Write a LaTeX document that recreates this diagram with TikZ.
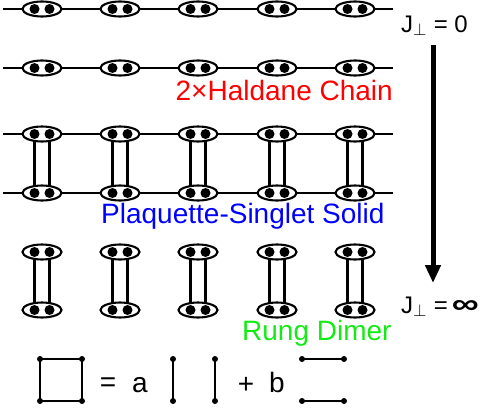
\documentclass[tikz,border=0pt]{standalone}
\usepackage{fontspec}
\setmainfont{Liberation Sans}
\usetikzlibrary{arrows.meta}

\newcommand{\varrx}{19.5}
\newcommand{\varry}{7.5}
\newcommand{\vardot}{5}
\newcommand{\varsep}{7.5}
\newcommand{\varend}{3}
\definecolor{myred}{RGB}{255,0,0}
\definecolor{myblue}{RGB}{0,0,255}
\definecolor{mygreen}{RGB}{20,235,20}

\tikzset{
  pair/.style={line width=2.1pt},
  rung/.style={line width=2.6pt},
  label/.style={inner sep=0pt, font=\fontsize{28}{30}\selectfont},
  coupling/.style={inner sep=0pt, anchor=base west, font=\fontsize{24}{26}\selectfont},
}

\begin{document}
\begin{tikzpicture}[x=1pt, y=-1pt]

	\useasboundingbox (0,0) rectangle (481,407);

	% chains
	\foreach \y in {9,68,134,193}
		\draw [line width=2.4pt] (3,\y) -- (393,\y);

	% rungs
	\foreach \x in {42,120,198,277,355} {
		\draw [rung] (\x-\varsep,134) -- (\x-\varsep,193);
		\draw [rung] (\x+\varsep,134) -- (\x+\varsep,193);
		\draw [rung] (\x-\varsep,252) -- (\x-\varsep,310);
		\draw [rung] (\x+\varsep,252) -- (\x+\varsep,310);
	}

	% singlet pairs
	\foreach \y in {9,68,134,193,252,310}
		\foreach \x in {42,120,198,277,355} {
			\draw [pair, fill=white] (\x,\y) ellipse ({\varrx} and {\varry});
			\fill (\x-\varsep,\y) circle (\vardot);
			\fill (\x+\varsep,\y) circle (\vardot);
		}

	% phases
	\node [label, text=myred, anchor=base east] (haldane) at (393,100) {2×Haldane Chain};
	\node [label, text=myblue, anchor=base west] (plaquette) at (101,223) {Plaquette-Singlet Solid};
	\node [label, text=mygreen, anchor=base west] (dimer) at (242,340) {Rung Dimer};

	% coupling
	\node [coupling] (jzero) at (401,32) {J$_\perp$ = 0};
	\node [coupling] (jinf) at (401,313) {J$_\perp$ =\,\resizebox{27pt}{13pt}{\textbf{∞}}};
	\coordinate (top) at (433,45);
	\coordinate (bot) at (433,283);
	\draw [-{Triangle[width=15pt,length=18pt]}, line width=5pt] (top) -- (bot);

	% plaquette = a rungs + b legs
	\draw [line width=2.4pt] (40,359) rectangle (82,401);
	\foreach \x in {40,82}
		\foreach \y in {359,401}
			\fill (\x,\y) circle (\varend);
	\node [label] (eq) at (108,385) {=};
	\node [label, anchor=base west] (ca) at (132,392) {a};
	\foreach \x in {173,215} {
		\draw [line width=2.4pt] (\x,359) -- (\x,401);
		\fill (\x,359) circle (\varend);
		\fill (\x,401) circle (\varend);
	}
	\node [label] (plus) at (246,385) {+};
	\node [label, anchor=base west] (cb) at (269,392) {b};
	\foreach \y in {359,401} {
		\draw [line width=2.4pt] (302,\y) -- (344,\y);
		\fill (302,\y) circle (\varend);
		\fill (344,\y) circle (\varend);
	}

\end{tikzpicture}
\end{document}
